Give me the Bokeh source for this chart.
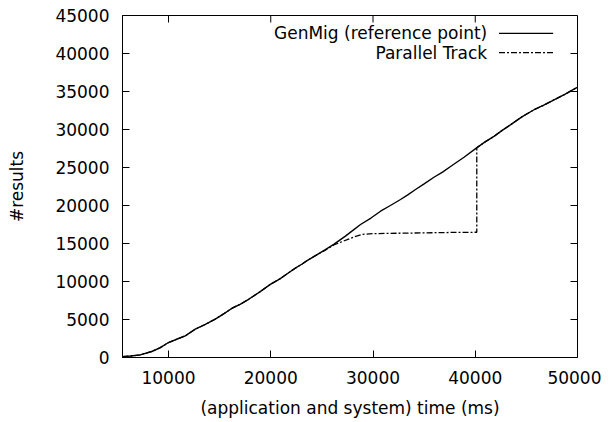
from bokeh.plotting import figure
from bokeh.models import FixedTicker, Range1d, Label, NumeralTickFormatter
from bokeh.embed import file_html
from bokeh.resources import INLINE

# ---- data ----
time_genmig = [5500, 6300, 7230, 8370, 9200, 10000, 10800, 11640, 12620, 13600, 14570,
               15400, 16210, 17000, 17840, 18900, 19960, 20900, 21750, 22400, 23070,
               23555, 24370, 25300, 26160, 27300, 28000, 28780, 29800, 30740, 31700,
               32690, 33400, 34160, 35000, 35960, 36800, 37620, 38900, 40200, 41000,
               41830, 42600, 43470, 44600, 45750, 46700, 47710, 48800, 49830, 50000]
results_genmig = [100, 200, 350, 790, 1300, 1970, 2400, 2850, 3730, 4350, 5040,
                  5750, 6480, 7000, 7660, 8600, 9630, 10350, 11150, 11750, 12300,
                  12750, 13400, 14150, 14880, 15970, 16700, 17500, 18350, 19250, 20000,
                  20790, 21400, 22100, 22850, 23720, 24400, 25160, 26350, 27650, 28400,
                  29100, 29850, 30640, 31700, 32600, 33200, 33910, 34650, 35430, 35550]

time_parallel = [5500, 6300, 7230, 8370, 9200, 10000, 10800, 11640, 12620, 13600, 14570,
                 15400, 16210, 17000, 17840, 18900, 19960, 20900, 21750, 22400, 23070,
                 23555, 24370, 25300, 26160, 26800, 27470, 28200, 28940, 30000, 32500,
                 35000, 37500, 40150, 40150, 41000, 41830, 42600, 43470, 44600, 45750,
                 46700, 47710, 48800, 49830, 50000]
results_parallel = [100, 200, 350, 790, 1300, 1970, 2400, 2850, 3730, 4350, 5040,
                    5750, 6480, 7000, 7660, 8600, 9630, 10350, 11150, 11750, 12300,
                    12750, 13400, 14100, 14800, 15150, 15500, 15900, 16200, 16300, 16350,
                    16400, 16450, 16480, 27600, 28400, 29100, 29850, 30640, 31700, 32600,
                    33200, 33910, 34650, 35430, 35550]

x_ticks = [10000, 20000, 30000, 40000, 50000]
y_ticks = [0, 5000, 10000, 15000, 20000, 25000, 30000, 35000, 40000, 45000]
series_names = ["GenMig (reference point)", "Parallel Track"]

# ---- layout / style ----
FONT = "DejaVu Sans"
FS = "17px"
X_MIN, X_MAX = 5500, 50000
Y_MIN, Y_MAX = 0, 45000
FRAME_W, FRAME_H = 455, 342
TICK_PX = 7
legend_text_x = 41170
legend_sample_x0 = 42320
legend_sample_x1 = 47620
legend_rows_y = [42660, 40110]

p = figure(frame_width=FRAME_W, frame_height=FRAME_H,
           x_range=Range1d(X_MIN, X_MAX), y_range=Range1d(Y_MIN, Y_MAX),
           output_backend="svg", toolbar_location=None,
           min_border_left=122, min_border_right=24, min_border_top=15,
           min_border_bottom=50)
p.grid.visible = False
p.outline_line_color = "black"
p.outline_line_width = 1
p.background_fill_color = "white"
p.border_fill_color = "white"

def style_axis(ax, ticks):
    ax.ticker = FixedTicker(ticks=ticks)
    ax.formatter = NumeralTickFormatter(format="0")
    ax.major_tick_in = TICK_PX
    ax.major_tick_out = 0
    ax.major_tick_line_color = "black"
    ax.major_tick_line_width = 1
    ax.minor_tick_line_color = None
    ax.axis_line_color = "black"
    ax.major_label_text_font = FONT
    ax.major_label_text_font_size = FS
    ax.major_label_text_color = "black"
    ax.axis_label_text_font = FONT
    ax.axis_label_text_font_size = FS
    ax.axis_label_text_font_style = "normal"
    ax.axis_label_text_color = "black"

style_axis(p.xaxis[0], x_ticks)
style_axis(p.yaxis[0], y_ticks)
p.xaxis[0].axis_label = "(application and system) time (ms)"
p.xaxis[0].major_label_standoff = 13
p.xaxis[0].axis_label_standoff = 11
p.yaxis[0].axis_label = "#results"
p.yaxis[0].major_label_standoff = 13
p.yaxis[0].axis_label_standoff = 25

# mirrored inward ticks on the top and right edges (gnuplot style)
tick_dy = TICK_PX * (Y_MAX - Y_MIN) / FRAME_H
tick_dx = TICK_PX * (X_MAX - X_MIN) / FRAME_W
p.segment(x0=x_ticks, y0=[Y_MAX] * len(x_ticks), x1=x_ticks,
          y1=[Y_MAX - tick_dy] * len(x_ticks), line_color="black", line_width=1)
p.segment(x0=[X_MAX] * len(y_ticks), y0=y_ticks, x1=[X_MAX - tick_dx] * len(y_ticks),
          y1=y_ticks, line_color="black", line_width=1)

p.line(time_parallel, results_parallel, line_color="black", line_width=1.3,
       line_dash="6 2 2 2")
p.line(time_genmig, results_genmig, line_color="black", line_width=1.4)

# gnuplot-style key: text right-aligned, sample on the right
dashes = ["solid", "6 2 2 2"]
for name, yy, dash in zip(series_names, legend_rows_y, dashes):
    p.add_layout(Label(x=legend_text_x, y=yy, text=name, text_align="right",
                       text_baseline="middle", text_font=FONT, text_font_size=FS,
                       text_color="black"))
    p.segment(x0=[legend_sample_x0], y0=[yy], x1=[legend_sample_x1], y1=[yy],
              line_color="black", line_width=1.3, line_dash=dash)

open("out.html", "w").write(file_html(p, INLINE))
